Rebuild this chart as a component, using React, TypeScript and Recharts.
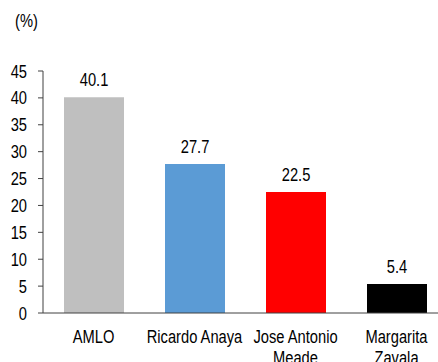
import { BarChart, Bar, XAxis, YAxis, Cell, LabelList, Label } from "recharts";

const candidates = ["AMLO", "Ricardo Anaya", "Jose Antonio Meade", "Margarita Zavala"];
const shares = [40.1, 27.7, 22.5, 5.4];
const barColors = ["#bfbfbf", "#5b9bd5", "#ff0000", "#000000"];
const yTicks = [0, 5, 10, 15, 20, 25, 30, 35, 40, 45];

const FONT = "'Liberation Sans', Arial, sans-serif";
const FONT_SIZE = 17.5;
const SQUEEZE = 0.84; // condensed look of the original typeface
const AXIS_COLOR = "#404040";

// text squeezed horizontally around its anchor point
function NarrowText({ x, y, anchor = "middle", lines }: { x: number; y: number; anchor?: string; lines: string[] }) {
  return (
    <text
      transform={`translate(${x},${y}) scale(${SQUEEZE},1)`}
      textAnchor={anchor}
      fontFamily={FONT}
      fontSize={FONT_SIZE}
      fill="#000"
    >
      {lines.map((line, i) => (
        <tspan key={i} x={0} dy={i === 0 ? 0 : 21}>
          {line}
        </tspan>
      ))}
    </text>
  );
}

// long names go on two lines, broken at the last space
function splitName(name: string): string[] {
  if (name.length <= 14) return [name];
  const i = name.lastIndexOf(" ");
  return [name.slice(0, i), name.slice(i + 1)];
}

function CandidateTick(props: any) {
  const { x, y, payload } = props;
  return <NarrowText x={x} y={y + 30} lines={splitName(payload.value)} />;
}

function ValueTick(props: any) {
  const { x, y, payload } = props;
  return <NarrowText x={x} y={y + 6.5} anchor="end" lines={[String(payload.value)]} />;
}

function BarValue(props: any) {
  const { x, y, width, value } = props;
  return <NarrowText x={x + width / 2} y={y - 11} lines={[String(value)]} />;
}

function UnitLabel(props: any) {
  const { viewBox } = props;
  return <NarrowText x={viewBox.x + viewBox.width / 2 + 5} y={viewBox.y - 44} lines={["(%)"]} />;
}

export default function App() {
  const data = candidates.map((name, i) => ({ name, value: shares[i] }));

  return (
    <div style={{ position: "absolute", left: 0, top: 0, width: 438, height: 362, overflow: "hidden", background: "#fff" }}>
      <BarChart
        width={460}
        height={362}
        data={data}
        margin={{ top: 71, right: 13, bottom: 0, left: 0 }}
      >
        <XAxis
          dataKey="name"
          height={49}
          axisLine={{ stroke: AXIS_COLOR }}
          tickLine={false}
          tickSize={0}
          tickMargin={0}
          interval={0}
          tick={<CandidateTick />}
        />
        <YAxis
          width={43}
          domain={[0, 45]}
          ticks={yTicks}
          interval={0}
          axisLine={{ stroke: AXIS_COLOR }}
          tickLine={{ stroke: AXIS_COLOR }}
          tickSize={5}
          tickMargin={11}
          tick={<ValueTick />}
        >
          <Label content={<UnitLabel />} />
        </YAxis>
        <Bar dataKey="value" barSize={60} isAnimationActive={false}>
          {data.map((d, i) => (
            <Cell key={d.name} fill={barColors[i]} />
          ))}
          <LabelList dataKey="value" content={<BarValue />} />
        </Bar>
      </BarChart>
    </div>
  );
}
